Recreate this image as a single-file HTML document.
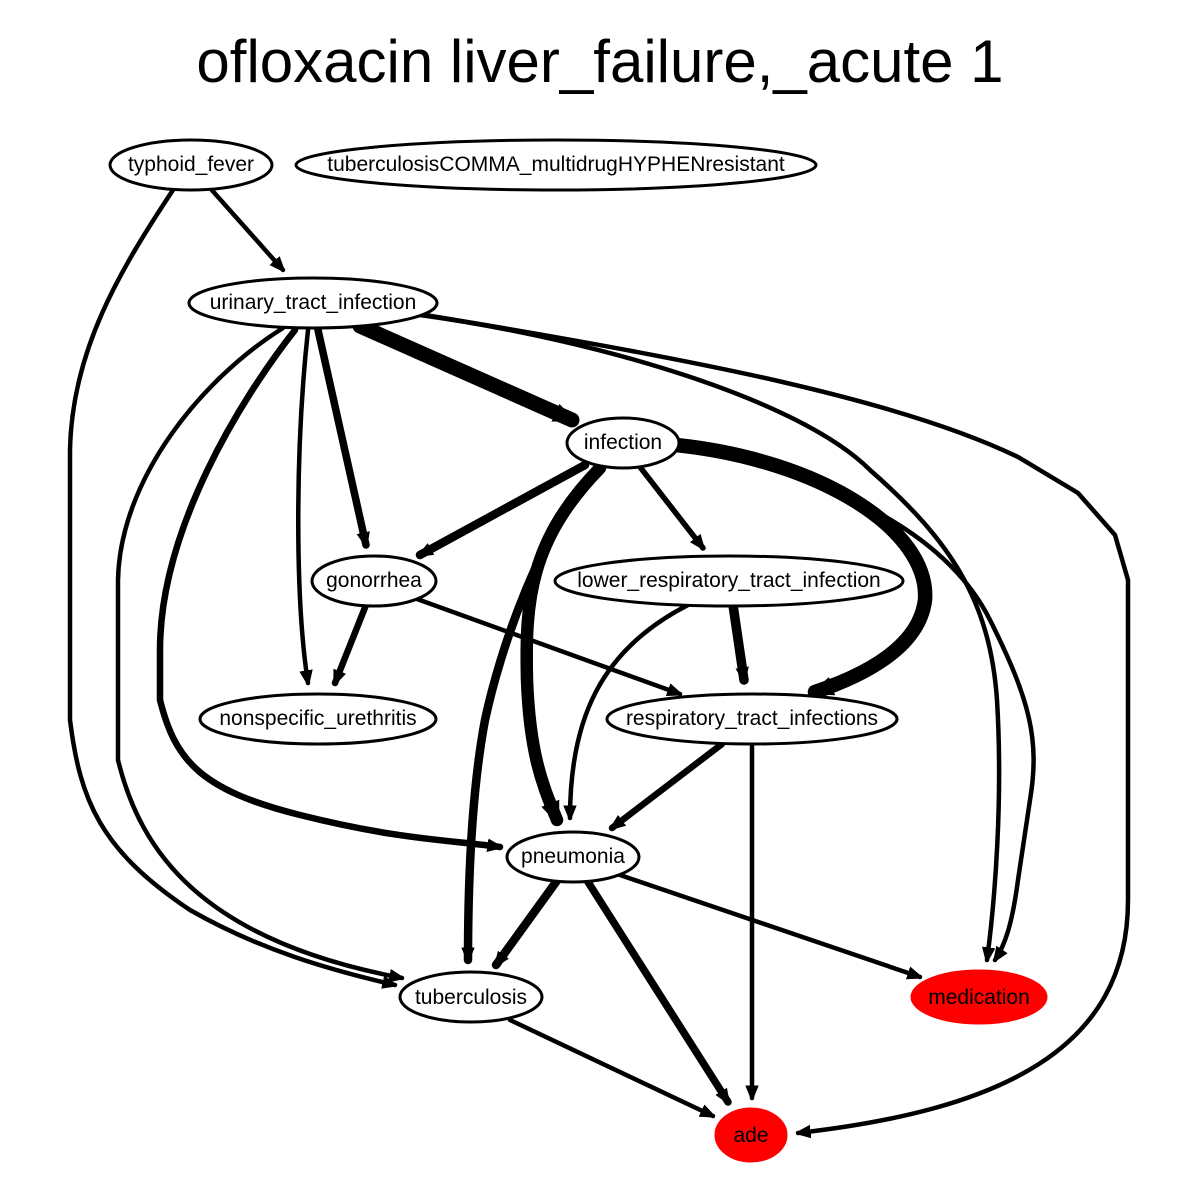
<!DOCTYPE html>
<html><head><meta charset="utf-8"><style>
html,body{margin:0;padding:0;background:#fff;}
svg{display:block}
text{font-family:"Liberation Sans",Arial,sans-serif;}
</style></head><body>
<svg width="1200" height="1200" viewBox="0 0 1200 1200" xmlns="http://www.w3.org/2000/svg">
<defs>
<marker id="a" viewBox="0 0 10 10" refX="9" refY="5" markerWidth="14" markerHeight="14" markerUnits="userSpaceOnUse" orient="auto">
<path d="M0,1 L10,5 L0,9 Z" fill="#000" stroke="#000" stroke-width="1.5" stroke-linejoin="round"/>
</marker>
<marker id="b" viewBox="0 0 10 10" refX="9" refY="5" markerWidth="20" markerHeight="20" markerUnits="userSpaceOnUse" orient="auto">
<path d="M0,1 L10,5 L0,9 Z" fill="#000" stroke="#000" stroke-width="1.5" stroke-linejoin="round"/>
</marker>
</defs>
<text x="600" y="82" font-size="60" text-anchor="middle">ofloxacin liver_failure,_acute 1</text>
<g fill="none" stroke="#000" stroke-linecap="round">
<path d="M210,188 L283,270" stroke-width="4.5" marker-end="url(#a)"/>
<path d="M173,190 C120,270 72,350 70,450 L70,720 C80,800 100,850 190,910 C260,950 330,970 395,985" stroke-width="4.5" marker-end="url(#a)"/>
<path d="M360,326 L572,420" stroke-width="15" marker-end="url(#b)"/>
<path d="M318,330 L366,545" stroke-width="7.5" marker-end="url(#a)"/>
<path d="M308,330 C295,450 295,600 308,683" stroke-width="4.5" marker-end="url(#a)"/>
<path d="M295,330 C240,400 160,530 160,650 L160,700 C175,760 200,790 300,815 C400,840 450,840 500,847" stroke-width="6.5" marker-end="url(#a)"/>
<path d="M283,328 C200,380 120,480 118,580 L118,760 C140,850 200,940 402,978" stroke-width="4.5" marker-end="url(#a)"/>
<path d="M420,315 C600,340 800,400 870,470 C950,540 990,600 997,700 C1003,800 995,900 987,960" stroke-width="4.5" marker-end="url(#a)"/>
<path d="M425,315 C700,360 900,400 1018,457 L1078,493 L1115,535 L1128,580 L1128,900 C1128,1050 1000,1110 798,1133" stroke-width="4.5" marker-end="url(#a)"/>
<path d="M585,465 L420,555" stroke-width="8.5" marker-end="url(#a)"/>
<path d="M640,467 L703,548" stroke-width="5.5" marker-end="url(#a)"/>
<path d="M600,465 C540,530 500,650 485,720 C470,800 468,900 468,960" stroke-width="8.5" marker-end="url(#a)"/>
<path d="M600,468 C530,540 525,600 527,680 C530,760 545,790 557,820" stroke-width="12.5" marker-end="url(#b)"/>
<path d="M676,445 C820,460 930,530 925,600 C920,640 880,670 815,692" stroke-width="14.5" marker-end="url(#b)"/>
<path d="M680,447 C850,480 950,540 990,620 C1030,700 1040,740 1030,800 L1018,880 C1012,925 1005,945 995,960" stroke-width="4.5" marker-end="url(#a)"/>
<path d="M366,605 L335,683" stroke-width="6.5" marker-end="url(#a)"/>
<path d="M417,599 L680,694" stroke-width="4.5" marker-end="url(#a)"/>
<path d="M733,605 L744,680" stroke-width="9.5" marker-end="url(#a)"/>
<path d="M688,605 C600,650 570,720 570,818" stroke-width="4.5" marker-end="url(#a)"/>
<path d="M722,744 L612,828" stroke-width="6.5" marker-end="url(#a)"/>
<path d="M752,744 L752,1098" stroke-width="4.5" marker-end="url(#a)"/>
<path d="M556,882 L496,965" stroke-width="8.5" marker-end="url(#a)"/>
<path d="M588,882 L728,1102" stroke-width="7.5" marker-end="url(#a)"/>
<path d="M620,875 L920,977" stroke-width="4.5" marker-end="url(#a)"/>
<path d="M510,1020 L713,1116" stroke-width="4.5" marker-end="url(#a)"/>
</g>
<g stroke="#000" stroke-width="3" fill="#fff">
<ellipse cx="191" cy="165" rx="81" ry="25"/>
<ellipse cx="556" cy="165" rx="260" ry="25"/>
<ellipse cx="313" cy="303" rx="124" ry="25"/>
<ellipse cx="623" cy="443" rx="56" ry="25"/>
<ellipse cx="374" cy="581" rx="62" ry="25"/>
<ellipse cx="729" cy="581" rx="174" ry="25"/>
<ellipse cx="318" cy="719" rx="118" ry="25"/>
<ellipse cx="752" cy="719" rx="145" ry="25"/>
<ellipse cx="573" cy="857" rx="66" ry="25"/>
<ellipse cx="471" cy="997" rx="71" ry="25"/>
<ellipse cx="979" cy="997" rx="67" ry="26" fill="#f00" stroke="#f00"/>
<ellipse cx="751" cy="1135" rx="35" ry="26" fill="#f00" stroke="#f00"/>
</g>
<g font-size="21" text-anchor="middle" fill="#000">
<text x="191" y="171">typhoid_fever</text>
<text x="556" y="171">tuberculosisCOMMA_multidrugHYPHENresistant</text>
<text x="313" y="309">urinary_tract_infection</text>
<text x="623" y="449">infection</text>
<text x="374" y="587">gonorrhea</text>
<text x="729" y="587">lower_respiratory_tract_infection</text>
<text x="318" y="725">nonspecific_urethritis</text>
<text x="752" y="725">respiratory_tract_infections</text>
<text x="573" y="863">pneumonia</text>
<text x="471" y="1004">tuberculosis</text>
<text x="979" y="1004">medication</text>
<text x="751" y="1142">ade</text>
</g>
</svg>
</body></html>
